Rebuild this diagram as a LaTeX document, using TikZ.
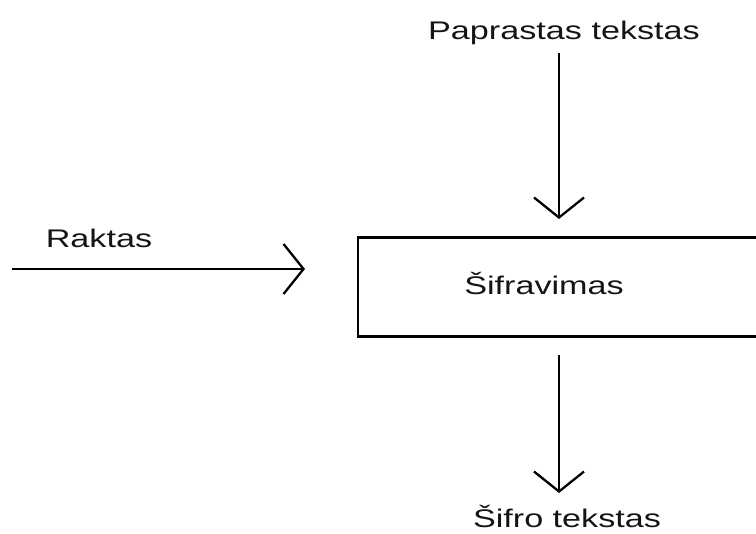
\documentclass[tikz,border=0pt]{standalone}
\usepackage{fontspec}
\setmainfont{Liberation Sans}
\usetikzlibrary{arrows.meta}
\newcommand{\wide}[1]{\scalebox{1.34}[1]{#1}}
\begin{document}
\begin{tikzpicture}[x=1pt,y=-1pt,
  lbl/.style={anchor=base,inner sep=0pt,text=black!92,font=\fontsize{25.5}{30}\selectfont},
  flow/.style={line width=2.3pt,-{Straight Barb[length=20pt,width=50pt,line width=2.3pt]}},
  blk/.style={draw,line width=2.6pt,rectangle,inner sep=0pt,outer sep=0pt,anchor=north west,
              minimum width=430pt,minimum height=99pt}]
\useasboundingbox (0,0) rectangle (756,534);
\clip (0,0) rectangle (756,534);

% the process block (runs off the right edge)
\node[blk] (box) at (358,237.5) {};
\node[lbl] (boxtext) at (544,295) {\wide{Šifravimas}};

% labels
\node[lbl] (ptext) at (564,40) {\wide{Paprastas tekstas}};
\node[lbl] (ktext) at (99,248) {\wide{Raktas}};
\node[lbl] (ctext) at (567,528) {\wide{Šifro tekstas}};

% arrow end points
\coordinate (pin)  at (559,53);
\coordinate (pout) at (559,219);
\coordinate (kin)  at (12,269);
\coordinate (kout) at (305,269);
\coordinate (cin)  at (559,355);
\coordinate (cout) at (559,493);

\draw[flow] (pin) -- (pout);
\draw[flow] (kin) -- (kout);
\draw[flow] (cin) -- (cout);
\end{tikzpicture}
\end{document}
